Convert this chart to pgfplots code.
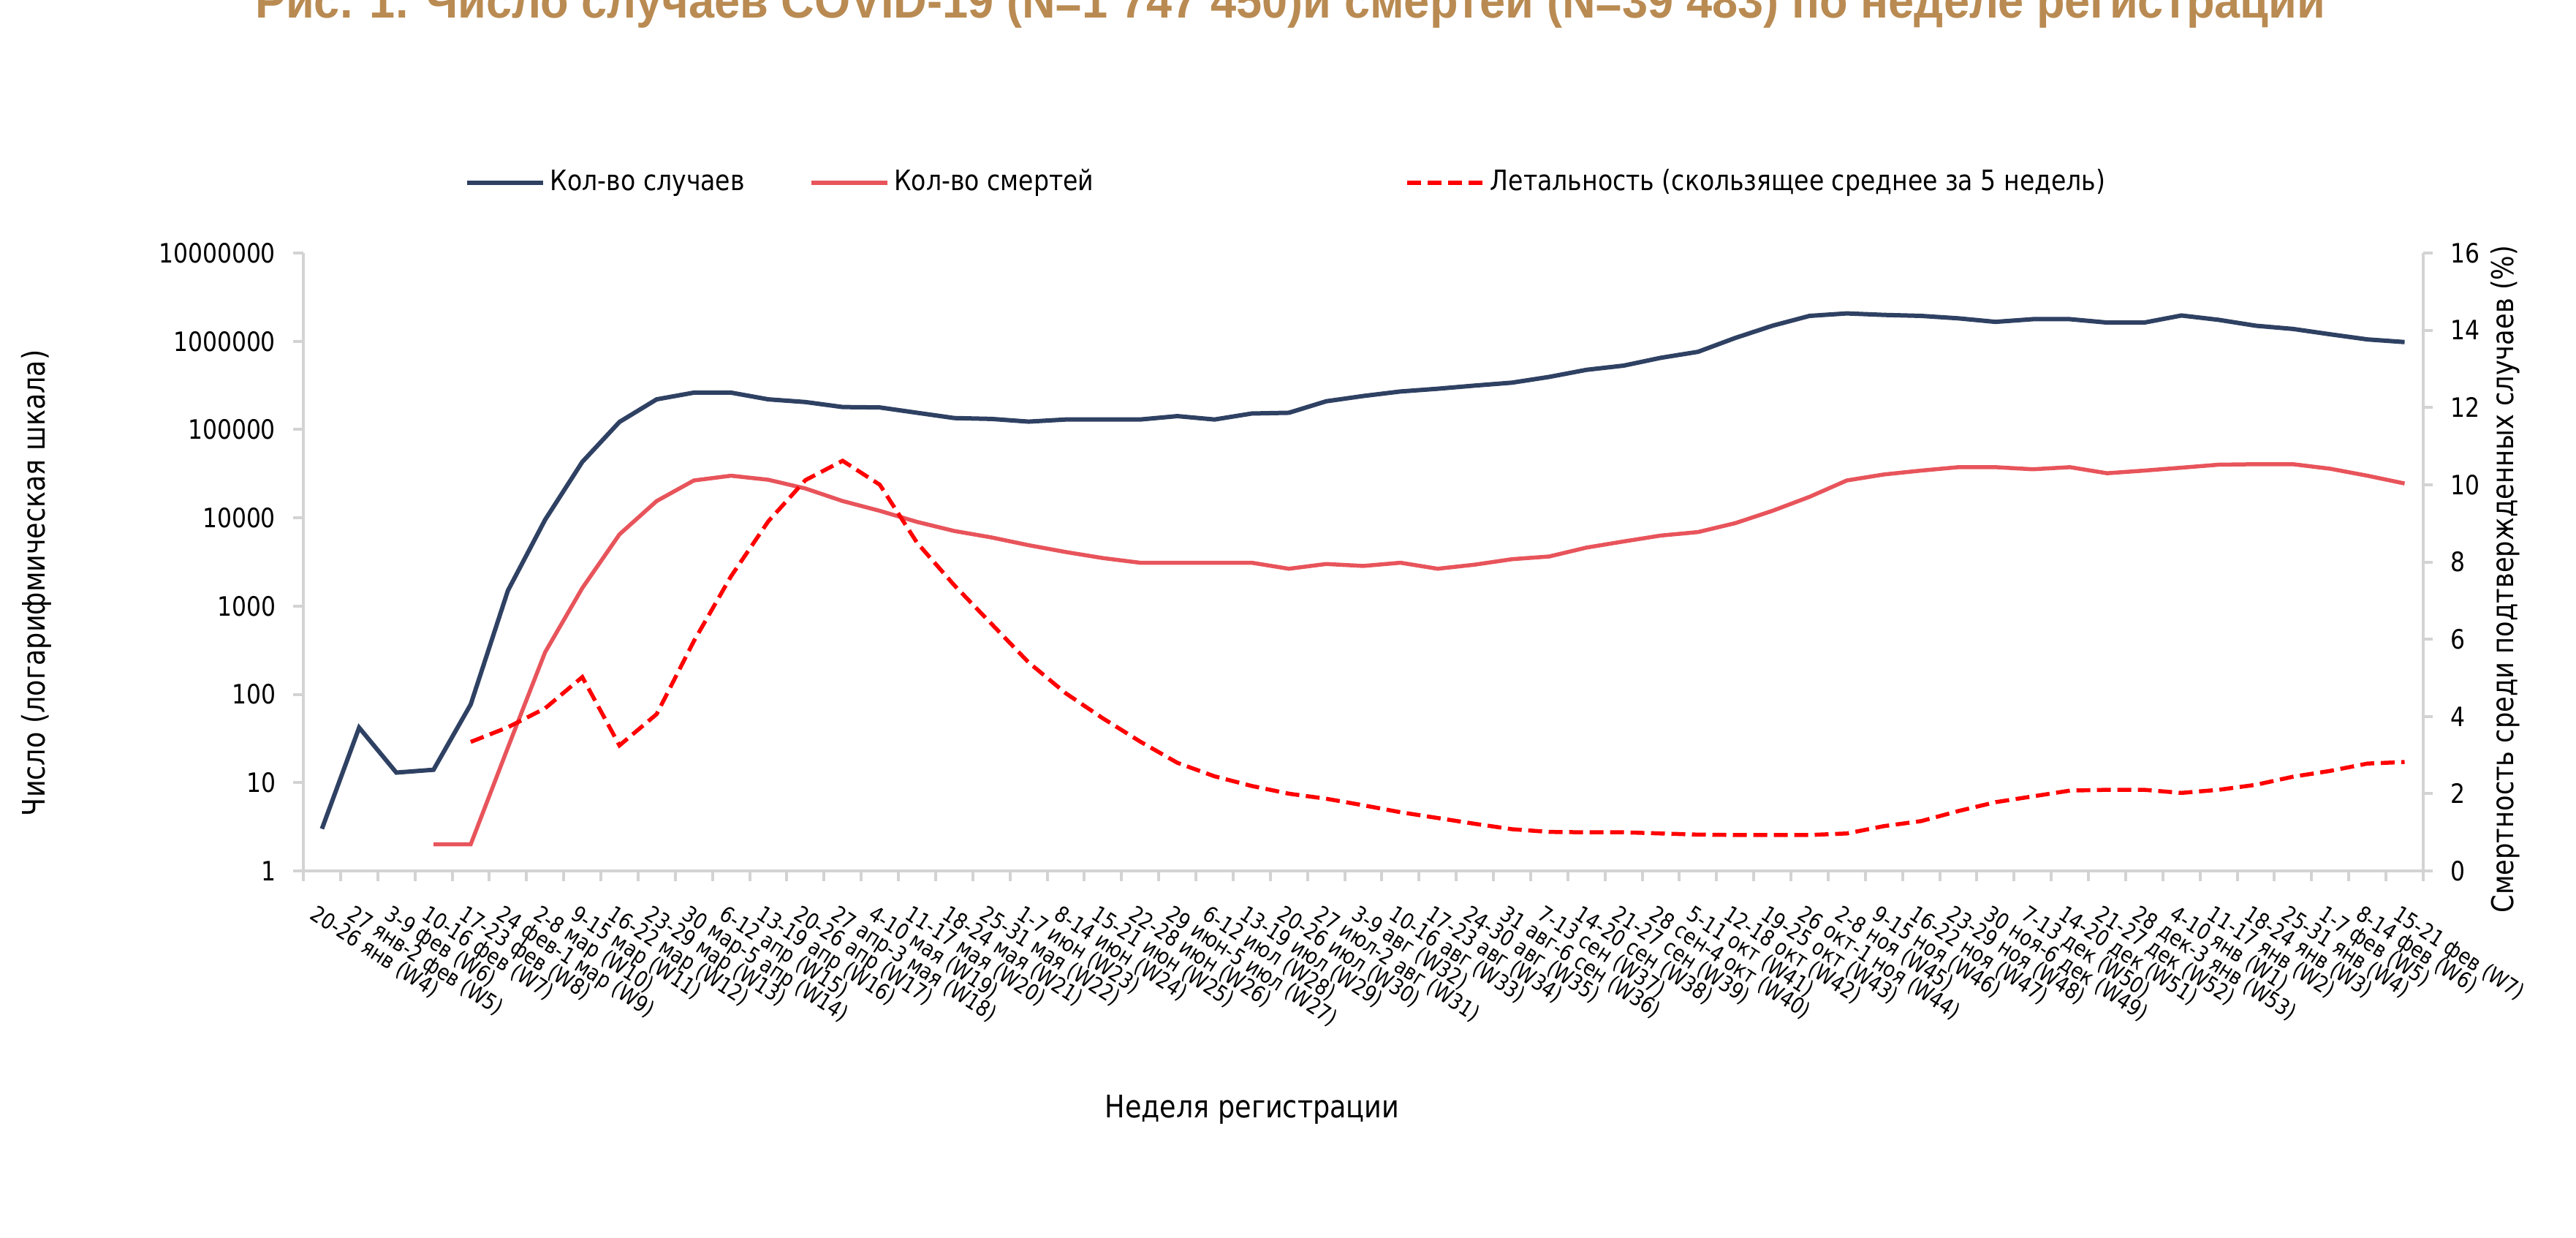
\documentclass[border=0pt]{standalone}
\usepackage{fontspec}
\setmainfont{DejaVu Sans}[FakeStretch=0.86]
\newfontfamily\titlefont{Liberation Sans}
\usepackage{graphicx}
\usepackage{pgfplots}
\pgfplotsset{compat=1.18}
\definecolor{casecol}{HTML}{2F4163}
\definecolor{deathcol}{HTML}{E8545B}
\definecolor{lethcol}{HTML}{FF0000}
\definecolor{axgray}{HTML}{D3D3D3}
\definecolor{titlecol}{HTML}{B98B52}

\pgfplotstableread{
i cases
0 3
1 42
2 13
3 14
4 77
5 1500
6 9500
7 43000
8 122000
9 220000
10 262000
11 262000
12 220000
13 205000
14 180000
15 178000
16 155000
17 135000
18 132000
19 123000
20 130000
21 130000
22 130000
23 142000
24 130000
25 152000
26 155000
27 209000
28 240000
29 270000
30 290000
31 315000
32 340000
33 395000
34 475000
35 530000
36 650000
37 760000
38 1090000
39 1500000
40 1940000
41 2070000
42 1990000
43 1940000
44 1820000
45 1660000
46 1780000
47 1780000
48 1630000
49 1630000
50 1960000
51 1750000
52 1500000
53 1380000
54 1200000
55 1050000
56 980000
}\casetab

\pgfplotstableread{
i deaths
3 2
4 2
5 25
6 300
7 1600
8 6500
9 15500
10 26500
11 30000
12 27000
13 21500
14 15500
15 12000
16 9000
17 7100
18 6000
19 4900
20 4100
21 3500
22 3100
23 3100
24 3100
25 3100
26 2650
27 3000
28 2850
29 3100
30 2650
31 2950
32 3400
33 3650
34 4600
35 5400
36 6300
37 6900
38 8700
39 12000
40 17300
41 26500
42 31000
43 34300
44 37500
45 37500
46 35500
47 37500
48 32000
49 34300
50 37000
51 40000
52 40500
53 40500
54 36000
55 30000
56 24500
}\deathtab

\pgfplotstableread{
i cfr
4 3.34
5 3.72
6 4.21
7 5.02
8 3.25
9 4.06
10 5.95
11 7.63
12 9.05
13 10.12
14 10.62
15 10.0
16 8.5
17 7.4
18 6.4
19 5.4
20 4.6
21 3.95
22 3.35
23 2.8
24 2.45
25 2.2
26 2.0
27 1.87
28 1.7
29 1.52
30 1.37
31 1.22
32 1.08
33 1.01
34 1.0
35 1.0
36 0.97
37 0.94
38 0.93
39 0.93
40 0.93
41 0.97
42 1.16
43 1.29
44 1.55
45 1.78
46 1.93
47 2.08
48 2.1
49 2.1
50 2.02
51 2.1
52 2.23
53 2.44
54 2.59
55 2.78
56 2.82
}\cfrtab

\begin{document}
\begin{tikzpicture}[x=1pt,y=1pt]
\useasboundingbox (0,0) rectangle (704.8,338.4);
\clip (0,0) rectangle (704.8,338.4);
\node[anchor=base west, inner sep=0pt, text=titlecol] at (69.6,333.6)
  {\resizebox{566.4pt}{\height}{\titlefont\bfseries\fontsize{13.4pt}{16pt}\selectfont Рис. 1. Число случаев COVID-19 (N=1 747 450)и смертей (N=39 483) по неделе регистрации}};

\begin{axis}[
  at={(83pt,100.2pt)}, anchor=south west,
  scale only axis, width=580pt, height=169pt,
  xmin=-0.5, xmax=56.5,
  ymode=log, ymin=1, ymax=1e7,
  axis x line*=bottom, axis y line*=left,
  axis line style={draw=axgray, line width=0.8pt},
  tick style={draw=axgray, line width=0.8pt},
  tick align=outside, major tick length=2.8pt,
  yminorticks=false,
  xtick={-0.5,0.5,...,56.5},
  xticklabels={20-26 янв (W4),27 янв-2 фев (W5),3-9 фев (W6),10-16 фев (W7),17-23 фев (W8),24 фев-1 мар (W9),2-8 мар (W10),9-15 мар (W11),16-22 мар (W12),23-29 мар (W13),30 мар-5 апр (W14),6-12 апр (W15),13-19 апр (W16),20-26 апр (W17),27 апр-3 мая (W18),4-10 мая (W19),11-17 мая (W20),18-24 мая (W21),25-31 мая (W22),1-7 июн (W23),8-14 июн (W24),15-21 июн (W25),22-28 июн (W26),29 июн-5 июл (W27),6-12 июл (W28),13-19 июл (W29),20-26 июл (W30),27 июл-2 авг (W31),3-9 авг (W32),10-16 авг (W33),17-23 авг (W34),24-30 авг (W35),31 авг-6 сен (W36),7-13 сен (W37),14-20 сен (W38),21-27 сен (W39),28 сен-4 окт (W40),5-11 окт (W41),12-18 окт (W42),19-25 окт (W43),26 окт-1 ноя (W44),2-8 ноя (W45),9-15 ноя (W46),16-22 ноя (W47),23-29 ноя (W48),30 ноя-6 дек (W49),7-13 дек (W50),14-20 дек (W51),21-27 дек (W52),28 дек-3 янв (W53),4-10 янв (W1),11-17 янв (W2),18-24 янв (W3),25-31 янв (W4),1-7 фев (W5),8-14 фев (W6),15-21 фев (W7),{}},
  xticklabel style={xshift=4pt, yshift=-6pt, rotate=-33, anchor=north west, inner sep=0pt, font=\fontsize{6pt}{7pt}\selectfont},
  ytick={1,10,100,1000,10000,100000,1000000,10000000},
  yticklabels={1,10,100,1000,10000,100000,1000000,10000000},
  yticklabel style={inner sep=0pt, xshift=-4.6pt, font=\fontsize{7.3pt}{8.5pt}\selectfont},
  ylabel={Число (логарифмическая шкала)},
  ylabel style={at={(axis description cs:-0.1259,0.466)}, anchor=center, font=\fontsize{8.5pt}{10pt}\selectfont},
  xlabel={Неделя регистрации},
  xlabel style={at={(axis description cs:0.4476,-0.3858)}, anchor=center, font=\fontsize{8.5pt}{10pt}\selectfont},
  legend columns=3,
  legend cell align=left,
  legend style={at={(0.0762,1.1136)}, anchor=west, draw=none, fill=none,
    inner sep=0pt, outer sep=0pt, column sep=0pt,
    nodes={inner sep=0pt},
    font=\fontsize{7.7pt}{9pt}\selectfont,
    /tikz/every odd column/.append style={column sep=1.4pt}},
  legend image code/.code={\draw[#1] (0pt,0pt) -- (20.8pt,0pt);},
]
\addplot[casecol, line width=1.2pt, mark=none] table[x=i, y=cases] {\casetab};
\addlegendentry{\makebox[70.8pt][l]{Кол-во случаев}}
\addplot[deathcol, line width=1.1pt, mark=none] table[x=i, y=deaths] {\deathtab};
\addlegendentry{\makebox[139.8pt][l]{Кол-во смертей}}
\addlegendimage{lethcol, line width=1.1pt, dash pattern=on 3.8pt off 1.8pt}
\addlegendentry{Летальность (скользящее среднее за 5 недель)}
\end{axis}

\begin{axis}[
  at={(83pt,100.2pt)}, anchor=south west,
  scale only axis, width=580pt, height=169pt,
  xmin=-0.5, xmax=56.5,
  ymin=0, ymax=16,
  axis x line=none, axis y line*=right,
  axis line style={draw=axgray, line width=0.8pt},
  tick style={draw=axgray, line width=0.8pt},
  tick align=outside, major tick length=2.6pt,
  ytick={0,2,4,6,8,10,12,14,16},
  yticklabels={0,2,4,6,8,10,12,14,16},
  yticklabel style={inner sep=0pt, anchor=west, xshift=4.8pt, font=\fontsize{7.3pt}{8.5pt}\selectfont},
  ylabel={Смертность среди подтвержденных случаев (\%)},
  ylabel style={at={(axis description cs:1.0386,0.472)}, anchor=center, font=\fontsize{8.2pt}{10pt}\selectfont},
]
\addplot[lethcol, line width=1.1pt, dash pattern=on 3.8pt off 1.8pt, mark=none] table[x=i, y=cfr] {\cfrtab};
\end{axis}
\end{tikzpicture}
\end{document}
